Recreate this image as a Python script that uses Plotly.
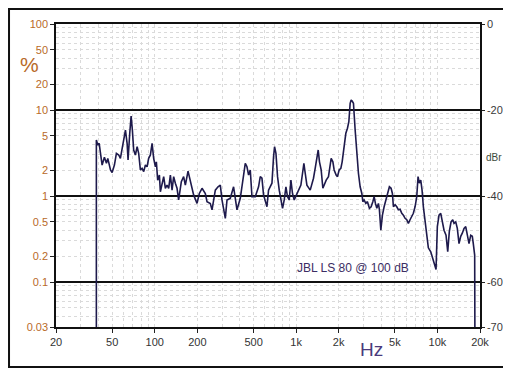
import math
import plotly.graph_objects as go

# ---- data (frequency in Hz, distortion in %) ----
freq_hz = [
    38.6, 38.6, 39.5, 40.4, 41.3, 42.4, 44.0, 45.5, 46.5, 48.6,
    49.9, 51.8, 53.5, 55.6, 57.1, 58.7, 60.3, 62.0, 63.7, 64.7,
    66.5, 68.0, 69.4, 70.9, 72.9, 75.0, 76.9, 79.1, 81.3, 83.5,
    85.8, 88.2, 90.5, 93.1, 95.7, 98.2, 101, 102.6, 104.8, 107.8,
    109.5, 112.6, 115.6, 118.8, 122.1, 125.4, 128.9, 132.5, 136.0, 139.8,
    143.7, 147.5, 154.1, 160.0, 164.5, 171.9, 178.4, 188.3, 199.0, 206.6,
    215.9, 227.8, 234.2, 247.1, 254.1, 268.1, 280.2, 290.8, 298.9, 315.5,
    324.3, 342.1, 361, 381.6, 402.6, 424.9, 436.8, 449, 460.9, 473.8,
    487.1, 513.8, 542.3, 557.5, 573.1, 588.2, 621.6, 638, 674.5, 692.3,
    703.7, 719.9, 738.9, 759.6, 780.9, 801.5, 823.9, 847, 869.4, 893.7,
    918.7, 942.9, 969.2, 1023, 1081, 1110, 1135, 1160, 1192, 1258,
    1327, 1364, 1403, 1433, 1463, 1504, 1546, 1587, 1632, 1694,
    1741, 1770, 1820, 1858, 1920, 1961, 2016, 2072, 2117, 2187,
    2248, 2308, 2361, 2412, 2451, 2491, 2545, 2616, 2689, 2760,
    2838, 2917, 2965, 3028, 3113, 3195, 3301, 3394, 3489, 3564,
    3640, 3724, 3822, 3885, 3975, 4080, 4194, 4312, 4425, 4571,
    4699, 4800, 4879, 5015, 5155, 5291, 5440, 5592, 5740, 5901,
    6066, 6226, 6400, 6579, 6752, 6943, 7137, 7290, 7447, 7619,
    7782, 7948, 8171, 8400, 8621, 8966, 9262, 9616, 9772, 9982,
    10260, 10550, 10830, 11130, 11500, 11820, 12130, 12480, 12830, 13100,
    13470, 13820, 14210, 14610, 14990, 15420, 15850, 16260, 16720, 17190,
    17640, 17930, 18340, 18400,
]

thd_pct = [
    0.03, 4.48, 3.92, 4.10, 3.14, 2.29, 2.82, 2.40, 2.74, 2.01,
    1.87, 2.29, 3.14, 3.00, 2.74, 3.43, 4.48, 5.85, 4.10, 2.62,
    5.36, 8.51, 5.85, 3.43, 3.00, 3.74, 3.14, 2.01, 2.10, 1.92,
    2.29, 2.19, 2.74, 3.00, 4.10, 2.74, 2.19, 2.50, 1.53, 1.75,
    1.12, 1.41, 1.68, 1.23, 1.34, 1.23, 1.75, 1.17, 1.68, 1.41,
    1.23, 0.90, 1.47, 1.68, 1.34, 1.95, 1.47, 1.03, 0.82, 1.07,
    1.23, 1.07, 0.86, 0.82, 0.69, 1.17, 1.28, 1.34, 0.90, 0.55,
    0.90, 0.94, 1.28, 0.69, 0.94, 1.68, 2.40, 2.19, 1.75, 2.01,
    0.98, 0.98, 1.28, 1.68, 1.61, 1.03, 0.75, 1.17, 1.41, 2.86,
    3.74, 3.14, 1.68, 1.17, 0.90, 0.72, 0.90, 1.28, 0.98, 0.90,
    1.53, 1.07, 0.90, 1.12, 1.34, 1.84, 2.40, 1.84, 1.34, 1.17,
    1.61, 2.10, 2.86, 3.43, 2.50, 2.01, 1.23, 1.41, 1.53, 1.68,
    2.19, 2.74, 2.50, 2.01, 1.75, 1.68, 2.01, 2.10, 2.50, 3.74,
    5.36, 6.13, 7.31, 11.97, 13.07, 12.7, 11.97, 5.85, 3.14, 1.84,
    1.28, 1.07, 0.86, 0.90, 0.82, 0.86, 0.72, 0.75, 0.86, 0.98,
    0.82, 0.72, 0.82, 0.69, 0.40, 0.60, 0.75, 0.90, 1.12, 1.28,
    1.23, 1.07, 0.75, 0.79, 0.75, 0.69, 0.70, 0.63, 0.60, 0.55,
    0.53, 0.48, 0.53, 0.57, 0.63, 0.75, 0.98, 1.68, 1.41, 1.53,
    1.17, 0.75, 0.53, 0.34, 0.25, 0.225, 0.189, 0.151, 0.140, 0.44,
    0.60, 0.63, 0.48, 0.40, 0.35, 0.225, 0.385, 0.50, 0.53, 0.48,
    0.50, 0.42, 0.28, 0.34, 0.37, 0.42, 0.44, 0.35, 0.28, 0.35,
    0.34, 0.28, 0.206, 0.03,
]
assert len(freq_hz) == len(thd_pct), (len(freq_hz), len(thd_pct))

x_tick_vals = [20, 50, 100, 200, 500, 1000, 2000, 5000, 10000, 20000]
x_tick_text = ["20", "50", "100", "200", "500", "1k", "2k", "5k", "10k", "20k"]
y_tick_vals = [100, 50, 20, 10, 5, 2, 1, 0.5, 0.2, 0.1, 0.03]
y_tick_text = ["100", "50", "20", "10", "5", "2", "1", "0.5", "0.2", "0.1", "0.03"]
dbr_tick_vals = [0, -20, -40, -60, -70.458]
dbr_tick_text = ["0", "-20", "-40", "-60", "-70"]
label_text = "JBL LS 80 @ 100 dB"

# ---- derived ----
dbr_vals = [20 * math.log10(p / 100.0) for p in thd_pct]
x_grid = [d * 10 ** k for k in range(1, 5) for d in range(1, 10) if 20 <= d * 10 ** k <= 20000]
y_grid = [round(d * 10.0 ** k, 6) for k in range(-2, 3) for d in range(2, 10) if 0.03 <= d * 10.0 ** k <= 100]

FONT = "Liberation Sans"
ORANGE = "#b86a28"
LINE = "#1e1a4c"
GRID = "#dadada"

fig = go.Figure()
fig.add_trace(go.Scatter(x=freq_hz, y=thd_pct, mode="lines",
                         line=dict(color=LINE, width=1.6), showlegend=False,
                         hoverinfo="x+y"))
fig.add_trace(go.Scatter(x=freq_hz, y=dbr_vals, mode="lines", yaxis="y2",
                         line=dict(color="rgba(0,0,0,0)", width=0), opacity=0,
                         showlegend=False, hoverinfo="skip"))


def ann(text, x, y, size, color):
    return dict(text=text, xref="paper", yref="paper", x=x, y=y,
                xanchor="center", yanchor="middle", showarrow=False,
                font=dict(family=FONT, size=size, color=color))


fig.update_layout(
    width=503, height=362, autosize=False,
    margin=dict(l=48, r=31, t=16, b=43, pad=0),
    paper_bgcolor="white", plot_bgcolor="white",
    font=dict(family=FONT, size=11, color="#333333"),
    xaxis=dict(
        type="log", range=[math.log10(20), math.log10(20000)],
        tickmode="array", tickvals=x_tick_vals, ticktext=x_tick_text,
        ticks="outside", ticklen=4, tickcolor="#222", tickwidth=1,
        tickfont=dict(family=FONT, size=11, color="#333333"),
        showgrid=False, zeroline=False,
        showline=True, linecolor="#111", linewidth=1.5, mirror=True,
        minor=dict(tickmode="array", tickvals=x_grid, showgrid=True,
                   gridcolor=GRID, gridwidth=1, griddash="3px,3px", ticks=""),
        automargin=False,
    ),
    yaxis=dict(
        type="log", range=[math.log10(0.03), 2],
        tickmode="array", tickvals=y_tick_vals, ticktext=y_tick_text,
        ticks="outside", ticklen=4, tickcolor="#222", tickwidth=1,
        tickfont=dict(family=FONT, size=11, color=ORANGE),
        showgrid=False, zeroline=False,
        showline=True, linecolor="#111", linewidth=1.5,
        minor=dict(tickmode="array", tickvals=y_grid, showgrid=True,
                   gridcolor=GRID, gridwidth=1, griddash="3px,3px", ticks=""),
        automargin=False,
    ),
    yaxis2=dict(
        overlaying="y", side="right", range=[-70.458, 0],
        tickmode="array", tickvals=dbr_tick_vals, ticktext=dbr_tick_text,
        ticks="outside", ticklen=3, tickcolor="#222",
        tickfont=dict(family=FONT, size=11, color="#3a3a3a"),
        showgrid=True, gridcolor="#111111", gridwidth=1.5, zeroline=False,
        showline=True, linecolor="#111", linewidth=1.5,
        automargin=False,
    ),
    annotations=[
        ann("%", -0.063, 0.865, 21, ORANGE),
        ann("Hz", 0.745, -0.073, 19, "#4a3a7c"),
        ann("dBr", 1.032, 0.561, 10, "#3c4a3c"),
        ann(label_text, 0.700, 0.195, 12, "#3b2d63"),
    ],
    shapes=[
        dict(type="rect", xref="paper", yref="paper",
             x0=-0.1108, x1=1.0637, y0=-0.132, y1=1.0495,
             line=dict(color="#111", width=2), fillcolor="rgba(0,0,0,0)"),
    ],
)

fig.write_html("out.html")
